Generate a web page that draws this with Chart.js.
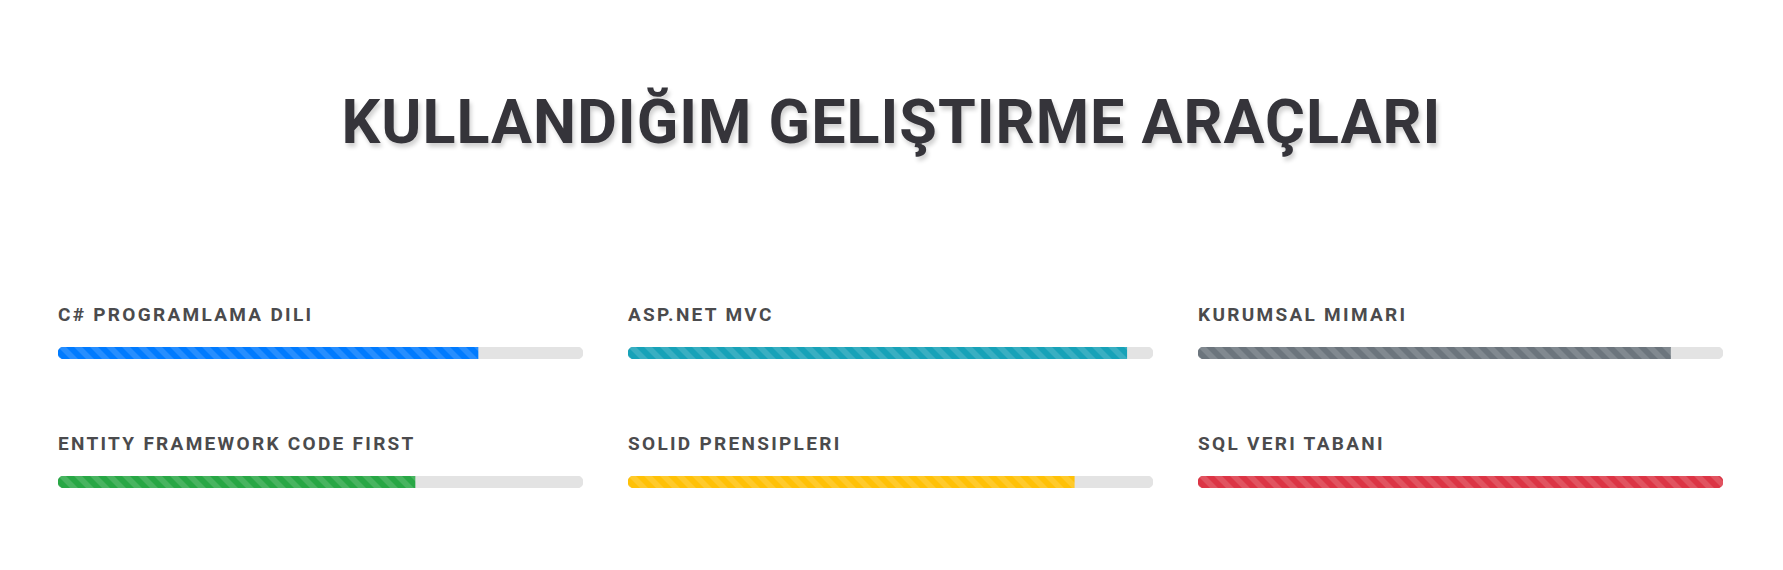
<!DOCTYPE html>
<html lang="tr">
<head>
<meta charset="utf-8">
<title>Kullandığım Geliştirme Araçları</title>
<script src="https://cdn.jsdelivr.net/npm/chart.js@4/dist/chart.umd.min.js"></script>
<style>
  html, body { margin: 0; padding: 0; background: #fff; }
  body { width: 1783px; height: 570px; position: relative; overflow: hidden; font-family: Roboto, "Noto Sans", sans-serif; }
  h1 {
    position: absolute; left: 0; top: 92px; width: 1783px; margin: 0;
    text-align: center; font-size: 61px; line-height: 1; font-weight: 700; letter-spacing: 1px;
    color: #35343a; text-shadow: 2px 4px 4px rgba(0, 0, 0, 0.18);
  }
  .skill { position: absolute; width: 525px; }
  .skill .label {
    font-size: 19px; line-height: 1; font-weight: 700; letter-spacing: 2.3px;
    color: #4b4b4d; height: 42px; white-space: nowrap;
  }
  .skill .bar { position: relative; width: 525px; height: 12px; }
</style>
</head>
<body>
<h1>KULLANDIĞIM GELIŞTIRME ARAÇLARI</h1>
<div id="grid"></div>
<script>
// skill names and levels (percent)
const SKILLS = [
  "C# PROGRAMLAMA DILI",
  "ASP.NET MVC",
  "KURUMSAL MIMARI",
  "ENTITY FRAMEWORK CODE FIRST",
  "SOLID PRENSIPLERI",
  "SQL VERI TABANI",
];
const LEVELS = [80, 95, 90, 68, 85, 100];
const BAR_COLORS = ["#007bff", "#17a2b8", "#6c757d", "#28a745", "#ffc107", "#dc3545"];
const TRACK_MAX = 100;
const TRACK_COLOR = "#e3e3e3";

// grid placement
const COL_X = [58, 628, 1198];
const ROW_Y = [305, 434];

// bootstrap-like 45deg stripes, 16px tile
function stripePattern(color) {
  const c = document.createElement("canvas");
  c.width = 16;
  c.height = 16;
  const ctx = c.getContext("2d");
  ctx.fillStyle = color;
  ctx.fillRect(0, 0, 16, 16);
  ctx.fillStyle = "rgba(255, 255, 255, 0.15)";
  ctx.beginPath();
  ctx.moveTo(0, 0); ctx.lineTo(8, 0); ctx.lineTo(16, 8); ctx.lineTo(16, 16);
  ctx.closePath();
  ctx.moveTo(0, 8); ctx.lineTo(8, 16); ctx.lineTo(0, 16);
  ctx.closePath();
  ctx.fill();
  return ctx.createPattern(c, "repeat");
}

function progressConfig(label, value, color) {
  const end = value >= TRACK_MAX ? 6 : 0;
  return {
    type: "bar",
    data: {
      labels: [label],
      datasets: [
        {
          data: [value],
          backgroundColor: stripePattern(color),
          borderRadius: { topLeft: 6, bottomLeft: 6, topRight: end, bottomRight: end },
          borderSkipped: false,
          grouped: false,
          barPercentage: 1,
          categoryPercentage: 1,
        },
        {
          data: [TRACK_MAX],
          backgroundColor: TRACK_COLOR,
          borderRadius: 6,
          borderSkipped: false,
          grouped: false,
          barPercentage: 1,
          categoryPercentage: 1,
        },
      ],
    },
    options: {
      indexAxis: "y",
      responsive: true,
      maintainAspectRatio: false,
      animation: false,
      layout: { padding: 0 },
      plugins: { legend: { display: false }, tooltip: { enabled: false } },
      scales: {
        x: { display: false, min: 0, max: TRACK_MAX },
        y: { display: false },
      },
    },
  };
}

const grid = document.getElementById("grid");
SKILLS.forEach((name, i) => {
  const cell = document.createElement("div");
  cell.className = "skill";
  cell.style.left = COL_X[i % 3] + "px";
  cell.style.top = ROW_Y[Math.floor(i / 3)] + "px";
  cell.innerHTML = '<div class="label"></div><div class="bar"><canvas></canvas></div>';
  cell.querySelector(".label").textContent = name;
  grid.appendChild(cell);
  new Chart(cell.querySelector("canvas"), progressConfig(name, LEVELS[i], BAR_COLORS[i]));
});
</script>
</body>
</html>
